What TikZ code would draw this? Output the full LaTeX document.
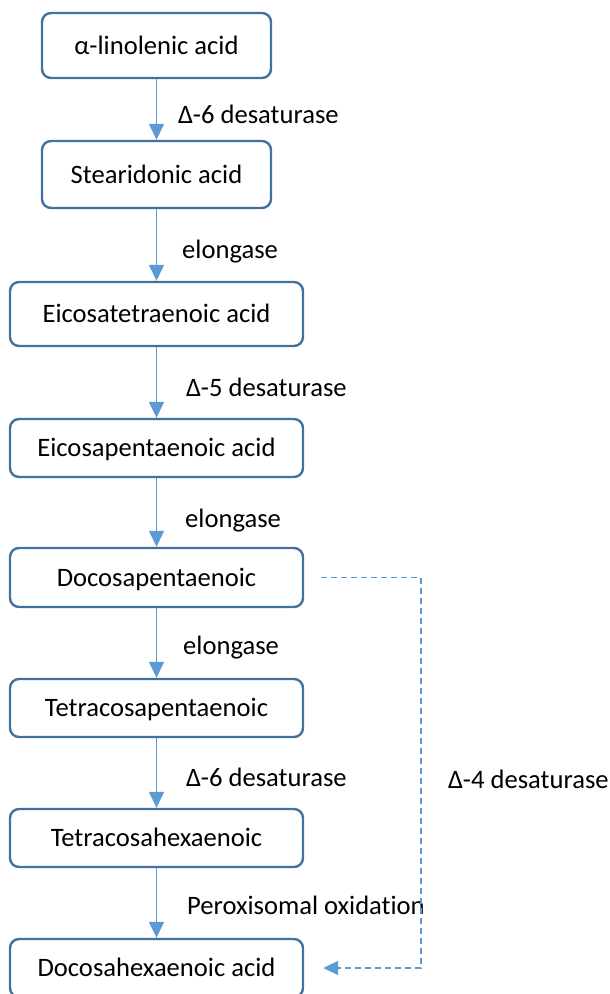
\documentclass[tikz,border=0pt]{standalone}
\usepackage{fontspec}
\setmainfont{Carlito}[Ligatures=NoCommon]
\usetikzlibrary{arrows.meta}
\definecolor{boxline}{HTML}{41719C}
\definecolor{arrowblue}{HTML}{5B9BD5}
\tikzset{
  acidbox/.style={draw=boxline, line width=2.4pt, rounded corners=9pt, fill=white,
    inner sep=0pt, text height=17pt, text depth=0pt, align=center, font=\fontsize{26.6}{32}\selectfont},
  flow/.style={draw=arrowblue, line width=1.4pt, -{Triangle[length=16pt,width=15pt]}},
  dashflow/.style={draw=arrowblue, line width=1.3pt, dash pattern=on 6pt off 4pt, -{Triangle[length=15pt,width=14pt]}},
  enzyme/.style={anchor=base west, inner sep=0pt, font=\fontsize{26.6}{32}\selectfont}
}
\begin{document}
\begin{tikzpicture}[x=1pt,y=-1pt]
\useasboundingbox (0,0) rectangle (610,994);
\node[acidbox, minimum width=229pt, minimum height=65pt] (n1) at (156.5,45.5) {α-linolenic acid};
\node[acidbox, minimum width=229pt, minimum height=67pt] (n2) at (156.5,174.5) {Stearidonic acid};
\node[acidbox, minimum width=293pt, minimum height=64pt] (n3) at (156.5,314) {Eicosatetraenoic acid};
\node[acidbox, minimum width=293pt, minimum height=58pt] (n4) at (156.5,448) {Eicosapentaenoic acid};
\node[acidbox, minimum width=293pt, minimum height=59pt] (n5) at (156.5,577.5) {Docosapentaenoic};
\node[acidbox, minimum width=293pt, minimum height=58pt] (n6) at (156.5,708) {Tetracosapentaenoic};
\node[acidbox, minimum width=293pt, minimum height=58pt] (n7) at (156.5,838) {Tetracosahexaenoic};
\node[acidbox, minimum width=293pt, minimum height=58pt] (n8) at (156.5,968) {Docosahexaenoic acid};

\draw[flow] (n1) -- (n2);
\draw[flow] (n2) -- (n3);
\draw[flow] (n3) -- (n4);
\draw[flow] (n4) -- (n5);
\draw[flow] (n5) -- (n6);
\draw[flow] (n6) -- (n7);
\draw[flow] (n7) -- (n8);

\node[enzyme] (e1) at (178,123) {Δ-6 desaturase};
\node[enzyme] (e2) at (182,258) {elongase};
\node[enzyme] (e3) at (186,396) {Δ-5 desaturase};
\node[enzyme] (e4) at (185,527) {elongase};
\node[enzyme] (e5) at (183,654) {elongase};
\node[enzyme] (e6) at (186,786) {Δ-6 desaturase};
\node[enzyme] (e7) at (187,914) {Peroxisomal oxidation};
\node[enzyme] (e8) at (448,788) {Δ-4 desaturase};

\coordinate (bend) at (421,577.5);
\draw[dashflow, shorten <=17pt, shorten >=19pt] (n5.east) -- (bend) |- (n8.east);
\end{tikzpicture}
\end{document}
